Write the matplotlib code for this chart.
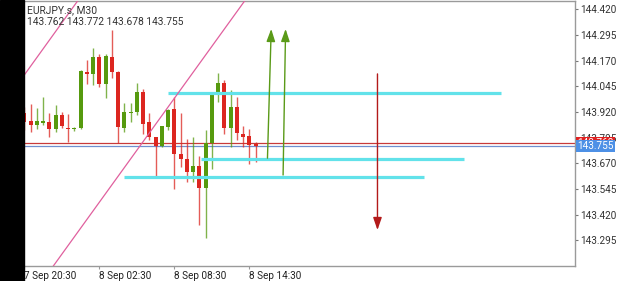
import matplotlib
matplotlib.use("Agg")
import matplotlib.pyplot as plt
import matplotlib.transforms as mtransforms
from matplotlib.patches import FancyArrowPatch, Rectangle

plt.rcParams['font.family'] = ['Roboto', 'DejaVu Sans']

# EURJPY.s M30 candles (index 0 = 7 Sep 20:30)
opens = [143.913, 143.877, 143.855, 143.868, 143.873, 143.836, 143.905, 143.840, 143.836, 143.840,
         144.115, 144.105, 144.186, 144.055, 144.189, 144.116, 143.843, 143.916, 143.920, 144.019,
         143.873, 143.797, 143.754, 143.845, 143.933, 143.715, 143.689, 143.629, 143.657, 143.551,
         143.769, 144.003, 144.060, 143.840, 143.946, 143.811, 143.803, 143.762]
highs = [143.944, 143.957, 143.938, 143.994, 143.913, 143.954, 143.918, 143.909, 143.848, 144.123,
         144.173, 144.230, 144.201, 144.201, 144.319, 144.118, 143.965, 143.962, 144.062, 144.032,
         143.913, 143.797, 143.853, 143.932, 143.994, 143.915, 143.788, 143.796, 143.705, 143.832,
         144.002, 144.108, 144.076, 144.027, 143.991, 143.852, 143.836, 143.772]
lows = [143.832, 143.824, 143.836, 143.856, 143.799, 143.821, 143.840, 143.775, 143.827, 143.837,
        144.056, 144.051, 144.043, 143.989, 144.084, 143.767, 143.824, 143.871, 143.905, 143.813,
        143.783, 143.605, 143.751, 143.832, 143.546, 143.650, 143.578, 143.580, 143.369, 143.307,
        143.644, 143.967, 143.811, 143.751, 143.783, 143.751, 143.668, 143.678]
closes = [143.873, 143.856, 143.874, 143.877, 143.837, 143.905, 143.853, 143.837, 143.838, 144.121,
          144.107, 144.186, 144.056, 144.193, 144.116, 143.848, 143.918, 143.920, 144.019, 143.861,
          143.799, 143.754, 143.853, 143.930, 143.715, 143.689, 143.629, 143.657, 143.548, 143.769,
          144.000, 144.060, 143.840, 143.946, 143.816, 143.799, 143.759, 143.755]

time_ticks = [0, 12, 24, 36]
time_labels = ["7 Sep 20:30", "8 Sep 02:30", "8 Sep 08:30", "8 Sep 14:30"]
price_ticks = [144.420, 144.295, 144.170, 144.045, 143.920, 143.795, 143.670, 143.545, 143.420, 143.295]

bid = 143.755
ask = 143.768

# cyan levels: (start index, end index, price)
level_start = [23.0, 28.2, 16.0]
level_end = [76.3, 70.4, 64.0]
level_price = [144.014, 143.691, 143.605]

# channel lines, two points each
chan_x = [[0.0, 8.64], [4.64, 35.36]]
chan_y = [[144.100, 144.465], [143.170, 144.465]]

# arrows: (x0, y0, x1, y1)
up_arrows = [(38.9, 143.695, 39.5, 144.324), (41.4, 143.613, 41.8, 144.324)]
down_arrows = [(56.5, 144.105, 56.5, 143.345)]

GREEN = '#569a0e'
RED = '#dc2620'

fig = plt.figure(figsize=(6.25, 2.81), dpi=100)
fig.patches.append(Rectangle((0, 0), 23.5 / 625, 1, transform=fig.transFigure,
                             color='black', zorder=0))
ax = fig.add_axes([24 / 625, 15 / 281, 551 / 625, 265 / 281])
ax.set_xlim(-0.05, 88.1)
ax.set_ylim(143.170, 144.460)

# candles
for i in range(len(opens)):
    o, h, l, c = opens[i], highs[i], lows[i], closes[i]
    col = GREEN if c >= o else RED
    ax.vlines(i, l, h, color=col, lw=1, alpha=0.75, zorder=3)
    body = max(abs(c - o), 0.004)
    ax.bar(i, body, bottom=min(o, c), width=0.65, color=col, lw=0, zorder=4)

# bid / ask lines
ax.axhline(ask, color='#c83a3a', lw=0.9, zorder=2)
ax.axhline(bid, color='#6f8fcf', lw=0.9, zorder=2)

# levels
for s, e, p in zip(level_start, level_end, level_price):
    ax.plot([s, e], [p, p], color='#62e2ea', lw=2.3, solid_capstyle='butt', zorder=5)

# channel
for xs, ys in zip(chan_x, chan_y):
    ax.axline((xs[0], ys[0]), (xs[1], ys[1]), color='#e0609e', lw=0.9, zorder=5)

# arrows
for x0, y0, x1, y1 in up_arrows:
    ax.add_patch(FancyArrowPatch((x0, y0), (x1, y1), arrowstyle='-|>,head_length=0.75,head_width=0.26',
                                 mutation_scale=10, color='#5a9a18', lw=1, shrinkA=0, shrinkB=0, zorder=6))
for x0, y0, x1, y1 in down_arrows:
    ax.add_patch(FancyArrowPatch((x0, y0), (x1, y1), arrowstyle='-|>,head_length=0.75,head_width=0.26',
                                 mutation_scale=10, color='#b31a1a', lw=1, shrinkA=0, shrinkB=0, zorder=6))

# axes styling
ax.spines['left'].set_visible(False)
for side in ['top', 'right', 'bottom']:
    ax.spines[side].set_color('#9a9a9a')
    ax.spines[side].set_linewidth(1)

ax.yaxis.tick_right()
ax.set_yticks(price_ticks)
ax.set_yticklabels([f"{p:.3f}" for p in price_ticks])
ax.tick_params(axis='y', length=2.5, width=0.8, color='#777777', pad=1,
               labelsize=7.2, labelcolor='#333333')
ax.set_xticks(time_ticks)
ax.set_xticklabels(time_labels, ha='left')
ax.tick_params(axis='x', length=2, width=0.8, color='#999999', pad=1.5,
               labelsize=7.2, labelcolor='#222222')

# price labels on right axis (ask box mostly hidden behind the bid box)
trans = mtransforms.blended_transform_factory(ax.transAxes, ax.transData)
ax.text(1.004, ask, f"{ask:.3f}", transform=trans, fontsize=7.2, color='white',
        va='center', ha='left', clip_on=False, zorder=7,
        bbox=dict(boxstyle='square,pad=0.1', fc='#e02020', ec='none'))
ax.text(1.004, bid, f"{bid:.3f}", transform=trans, fontsize=7.2, color='white',
        va='center', ha='left', clip_on=False, zorder=8,
        bbox=dict(boxstyle='square,pad=0.12', fc='#4d90e6', ec='none'))

# header
ax.text(0.005, 0.985, "EURJPY.s, M30", transform=ax.transAxes, fontsize=7.4,
        color='#333333', va='top', ha='left', zorder=9)
ax.text(0.005, 0.94, f"{opens[-1]:.3f} {highs[-1]:.3f} {lows[-1]:.3f} {closes[-1]:.3f}",
        transform=ax.transAxes, fontsize=7.4, color='#333333', va='top', ha='left', zorder=9)

fig.savefig("out.png", dpi=100)
